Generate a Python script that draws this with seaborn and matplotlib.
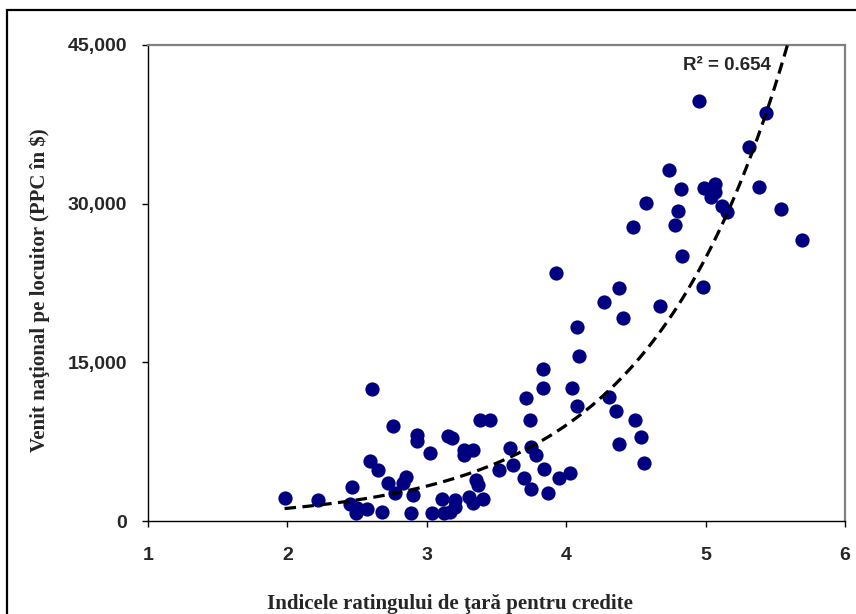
import numpy as np
import pandas as pd
import matplotlib
matplotlib.use("Agg")
import matplotlib.pyplot as plt
import seaborn as sns
from matplotlib.patches import Rectangle
from matplotlib.ticker import FuncFormatter

# --- data ---
rating = [1.98, 2.22, 2.46, 2.45, 2.49, 2.50, 2.57, 2.59, 2.65, 2.61,
          2.68, 2.72, 2.76, 2.77, 2.83, 2.85, 2.90, 2.89, 2.93, 2.93,
          3.02, 3.04, 3.11, 3.12, 3.15, 3.18, 3.17, 3.20, 3.20, 3.27,
          3.27, 3.33, 3.30, 3.33, 3.35, 3.37, 3.40, 3.38, 3.45, 3.52,
          3.60, 3.62, 3.70, 3.75, 3.74, 3.71, 3.75, 3.78, 3.93, 3.83,
          3.83, 4.04, 4.08, 4.09, 4.08, 3.84, 3.87, 3.95, 4.03, 4.27,
          4.38, 4.41, 4.31, 4.36, 4.49, 4.54, 4.38, 4.56, 4.67, 4.48,
          4.95, 5.43, 5.31, 4.74, 4.82, 4.99, 5.07, 5.07, 5.04, 4.57,
          5.38, 5.12, 5.15, 4.80, 4.78, 5.54, 5.69, 4.83, 4.98]
income = [2200, 2000, 3200, 1600, 750, 1250, 1150, 5700, 4800, 12500,
          850, 3600, 9000, 2650, 3600, 4150, 2450, 750, 8100, 7600,
          6400, 750, 2100, 750, 8000, 7800, 850, 2000, 1300, 6700,
          6250, 6700, 2250, 1700, 3900, 3400, 2100, 9550, 9550, 4800,
          6900, 5300, 4050, 3000, 9550, 11600, 7000, 6250, 23450, 14350,
          12550, 12550, 18350, 15600, 10900, 4900, 2650, 4050, 4550, 20700,
          22000, 19200, 11700, 10400, 9550, 7950, 7300, 5500, 20300, 27800,
          39700, 38550, 35350, 33200, 31400, 31500, 31850, 31100, 30650, 30050,
          31550, 29800, 29200, 29300, 28000, 29500, 26550, 25050, 22100]
x_ticks = [1, 2, 3, 4, 5, 6]
y_ticks = [0, 15000, 30000, 45000]
r2_label = "R² = 0.654"
x_label = "Indicele ratingului de ţară pentru credite"
y_label = "Venit naţional pe locuitor (PPC în $)"

df = pd.DataFrame({"rating": rating, "income": income})

# exponential trend line (least squares on log(y), as a spreadsheet does)
b, ln_a = np.polyfit(df["rating"], np.log(df["income"]), 1)
xs = np.linspace(df["rating"].min(), df["rating"].max(), 300)
trend = pd.DataFrame({"rating": xs, "income": np.exp(ln_a) * np.exp(b * xs)})

sns.set_theme(style="white")
plt.rcParams["font.family"] = ["Liberation Sans", "DejaVu Sans"]

fig = plt.figure(figsize=(8.56, 6.14), dpi=100)
ax = fig.add_axes([148 / 856, 93 / 614, 697 / 856, 476 / 614])

sns.scatterplot(data=df, x="rating", y="income", ax=ax, color="#000080",
                s=105, edgecolor="#000080", linewidth=0, zorder=3, clip_on=False)
sns.lineplot(data=trend, x="rating", y="income", ax=ax, color="black",
             linewidth=2.3, dashes=False, zorder=4)
ax.lines[-1].set_dashes((3.6, 2.0))

ax.set_xlim(1, 6)
ax.set_ylim(0, 45000)
ax.set_xticks(x_ticks)
ax.set_yticks(y_ticks)
ax.yaxis.set_major_formatter(FuncFormatter(lambda v, p: f"{int(v):,}"))
ax.tick_params(axis="both", which="major", direction="out", length=4,
               width=1, color="black", labelsize=14, left=True, bottom=True)
ax.tick_params(axis="x", pad=15)
ax.tick_params(axis="y", pad=11)
for lab in ax.get_xticklabels() + ax.get_yticklabels():
    lab.set_fontweight("bold")

for side in ["top", "right"]:
    ax.spines[side].set_color("#808080")
    ax.spines[side].set_linewidth(1.6)
for side in ["left", "bottom"]:
    ax.spines[side].set_color("black")
    ax.spines[side].set_linewidth(1.0)

ax.set_xlabel(x_label, family=["Liberation Serif", "DejaVu Serif"],
              fontweight="bold", fontsize=15)
ax.set_ylabel(y_label, family=["Liberation Serif", "DejaVu Serif"],
              fontweight="bold", fontsize=15)
ax.xaxis.set_label_coords(0.433, -0.153)
ax.yaxis.set_label_coords(-0.141, 0.485)

ax.text(683 / 856, 1 - 65 / 614, r2_label, transform=fig.transFigure,
        fontsize=13.5, fontweight="bold", ha="left", va="center", zorder=5)

fig.patches.append(Rectangle((7 / 856, -0.1), 1.2, 0.1 + (1 - 10 / 614),
                             transform=fig.transFigure, fill=False,
                             edgecolor="black", linewidth=1.6))

fig.savefig("out.png", dpi=100, facecolor="white")
